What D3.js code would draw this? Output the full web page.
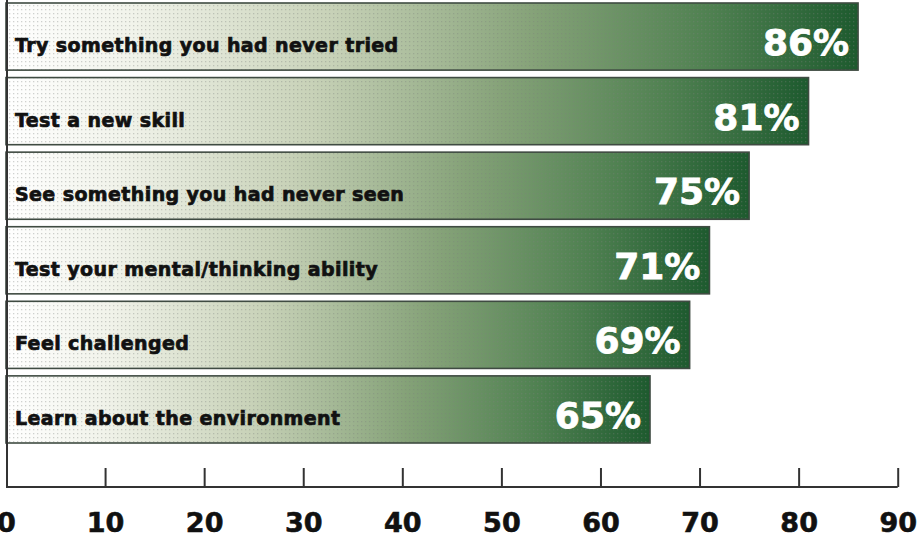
<!DOCTYPE html>
<html>
<head>
<meta charset="utf-8">
<script src="https://cdn.jsdelivr.net/npm/d3@7"></script>
<style>
  html, body { margin: 0; padding: 0; background: #ffffff; }
  svg { display: block; }
</style>
</head>
<body>
<svg id="chart" width="921" height="539"></svg>
<script>
const categories = [
  "Try something you had never tried",
  "Test a new skill",
  "See something you had never seen",
  "Test your mental/thinking ability",
  "Feel challenged",
  "Learn about the environment"
];
const values = [86, 81, 75, 71, 69, 65];
const tickValues = [0, 10, 20, 30, 40, 50, 60, 70, 80, 90];

const data = categories.map((c, i) => ({ cat: c, val: values[i] }));

const svg = d3.select("#chart");
const axisY = 487;

const x = d3.scaleLinear().domain([0, 90]).range([6, 897.7]);
const y = d3.scaleBand().domain(categories).range([3, 443]).paddingInner(0.1).paddingOuter(0);

const defs = svg.append("defs");
const grad = defs.append("linearGradient")
  .attr("id", "barGrad")
  .attr("x1", "0").attr("y1", "0").attr("x2", "1").attr("y2", "0");
[
  [0, "#ffffff"], [0.15, "#f1f3ea"], [0.38, "#c8d2b8"],
  [0.62, "#85a278"], [0.83, "#4e8050"], [1, "#1d5a2e"]
].forEach(([o, c]) => grad.append("stop").attr("offset", o).attr("stop-color", c));

const pat = defs.append("pattern")
  .attr("id", "dots").attr("patternUnits", "userSpaceOnUse")
  .attr("width", 4).attr("height", 4);
pat.append("rect").attr("x", 1).attr("y", 1).attr("width", 1.3).attr("height", 1.3)
  .attr("fill", "#7a7f7a").attr("opacity", 0.35);

const bars = svg.append("g").selectAll("g.bar").data(data).join("g").attr("class", "bar");

bars.append("rect")
  .attr("x", x(0))
  .attr("y", d => y(d.cat))
  .attr("width", d => x(d.val) - x(0))
  .attr("height", y.bandwidth())
  .attr("fill", "url(#barGrad)");

bars.append("rect")
  .attr("x", x(0))
  .attr("y", d => y(d.cat))
  .attr("width", d => x(d.val) - x(0))
  .attr("height", y.bandwidth())
  .attr("fill", "url(#dots)")
  .attr("stroke", "#3f4b42")
  .attr("stroke-width", 1.6);

bars.append("text")
  .attr("x", 15)
  .attr("y", d => y(d.cat) + 49)
  .attr("font-family", "'DejaVu Sans', sans-serif")
  .attr("font-weight", "bold")
  .attr("font-size", 19)
  .attr("letter-spacing", 0.4)
  .attr("fill", "#111111")
  .attr("stroke", "#111111")
  .attr("stroke-width", 0.7)
  .text(d => d.cat);

bars.append("text")
  .attr("x", d => x(d.val) - 9)
  .attr("y", d => y(d.cat) + 52)
  .attr("text-anchor", "end")
  .attr("font-family", "'DejaVu Sans', sans-serif")
  .attr("font-weight", "bold")
  .attr("font-size", 36)
  .attr("fill", "#ffffff")
  .attr("stroke", "#ffffff")
  .attr("stroke-width", 0.8)
  .text(d => d.val + "%");

// Axes
svg.append("line")
  .attr("x1", 7).attr("x2", 7).attr("y1", 0).attr("y2", axisY)
  .attr("stroke", "#333").attr("stroke-width", 2);

const xAxis = d3.axisBottom(x).tickValues(tickValues).tickSize(0).tickPadding(0).tickFormat(d3.format("d"));
const gx = svg.append("g").attr("transform", `translate(0,${axisY})`).call(xAxis);
gx.select(".domain").attr("d", `M${x(0)},0H${x(90)}`).attr("stroke", "#333").attr("stroke-width", 2);
gx.selectAll(".tick line")
  .attr("y2", -19)
  .attr("stroke", "#333").attr("stroke-width", 2)
  .filter(d => d === 0).remove();
gx.selectAll(".tick text")
  .attr("y", 45)
  .attr("dy", null)
  .attr("font-family", "'DejaVu Sans', sans-serif")
  .attr("font-weight", "bold")
  .attr("font-size", 27)
  .attr("fill", "#111")
  .attr("stroke", "#111")
  .attr("stroke-width", 0.6);
</script>
</body>
</html>
